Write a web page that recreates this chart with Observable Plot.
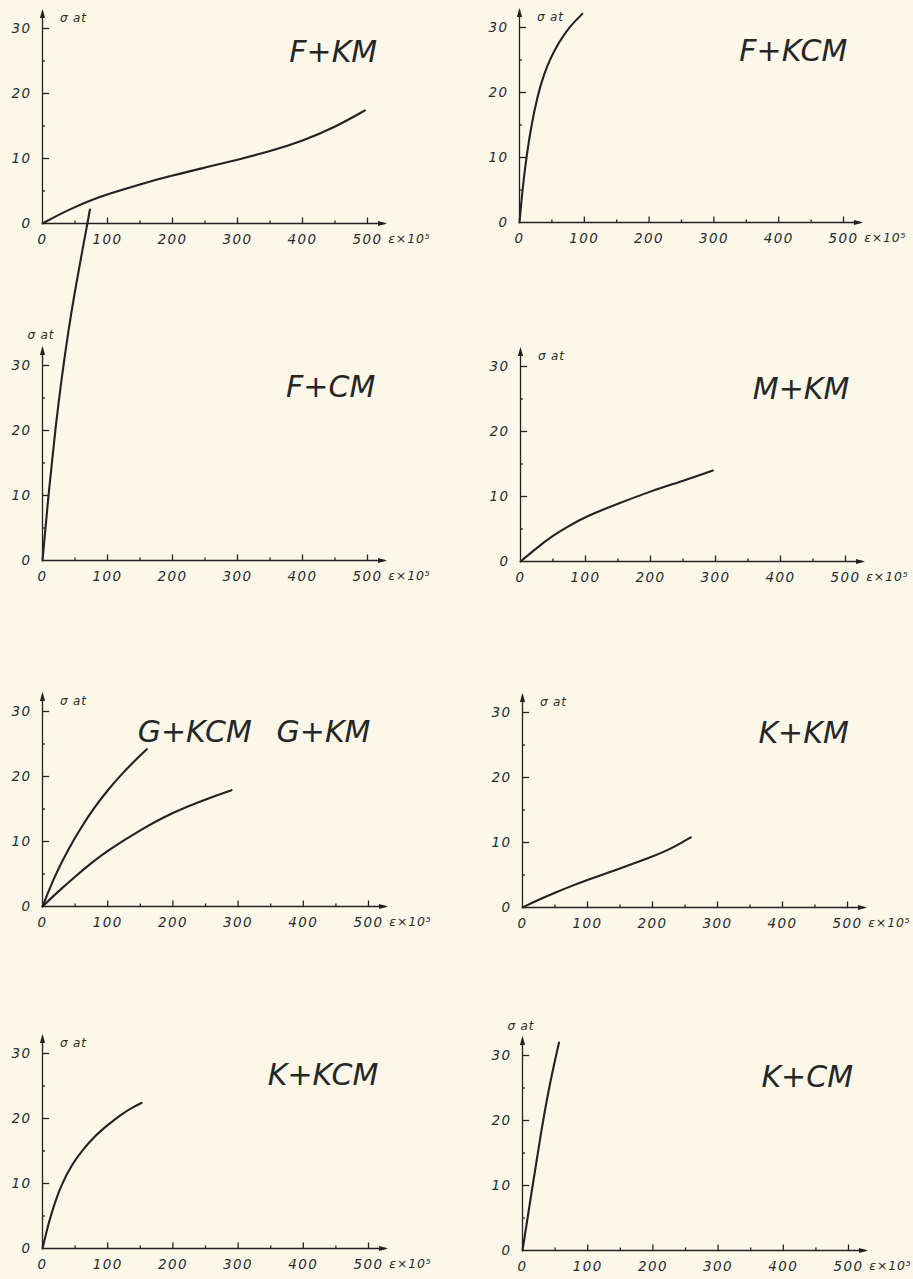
<!DOCTYPE html>
<html>
<head>
<meta charset="utf-8">
<script src="https://cdn.jsdelivr.net/npm/d3@7"></script>
<script src="https://cdn.jsdelivr.net/npm/@observablehq/plot@0.6"></script>
<style>
  html, body { margin: 0; padding: 0; background: #fbf8ea; }
  #fig { position: relative; width: 913px; height: 1279px; overflow: hidden; background: #fbf8ea; }
  #fig svg { position: absolute; overflow: visible; }
  #fig g[aria-description="tick-label"] text { letter-spacing: 1.4px; }
  #fig g[aria-description="unit-label"] text { letter-spacing: 0.8px; }
</style>
</head>
<body>
<div id="fig"></div>
<script>
// ---- axis ticks and labels ----
const xMajor = [100, 200, 300, 400, 500];
const xMinor = [50, 150, 250, 350, 450];
const xLabels = [0, 100, 200, 300, 400, 500];
const yMajor = [10, 20, 30];
const yMinor = [5, 15, 25];
const yLabels = [0, 10, 20, 30];
const xUnit = "ε×10⁵";
const yUnit = "σ at";

// ---- panel titles ----
const panelTitles = ["F+KM", "F+KCM", "F+CM", "M+KM", "G+KCM", "K+KM", "K+KCM", "K+CM"];
const extraTitle = "G+KM";

// ---- curves: strain ε×10^5 and stress σ (at) ----
const fkmEps  = [0, 25, 50, 75, 100, 150, 200, 250, 300, 350, 400, 450, 496];
const fkmSig  = [0, 1.35, 2.55, 3.6, 4.5, 6.05, 7.4, 8.6, 9.8, 11.1, 12.7, 14.8, 17.4];

const fkcmEps = [0, 5, 11, 18, 28, 38, 48, 60, 76, 97];
const fkcmSig = [0, 5.5, 10.3, 14.8, 19.6, 22.9, 25.3, 27.6, 30.0, 32.1];

const fcmEps  = [0, 10, 20, 30, 40, 50, 60, 73];
const fcmSig  = [0, 11, 20.5, 28.5, 35.5, 41.5, 47, 54];

const mkmEps  = [0, 25, 50, 75, 100, 150, 200, 250, 296];
const mkmSig  = [0, 2.1, 4.0, 5.5, 6.9, 8.9, 10.8, 12.4, 14.0];

const gkcmEps = [0, 20, 40, 60, 80, 100, 120, 140, 160];
const gkcmSig = [0, 5.0, 8.9, 12.3, 15.3, 17.9, 20.2, 22.3, 24.2];

const gkmEps  = [0, 25, 50, 75, 100, 150, 200, 250, 290];
const gkmSig  = [0, 2.4, 4.6, 6.7, 8.6, 11.8, 14.5, 16.5, 17.9];

const kkmEps  = [0, 25, 50, 75, 100, 150, 200, 230, 259];
const kkmSig  = [0, 1.2, 2.3, 3.3, 4.25, 6.0, 7.8, 9.1, 10.8];

const kkcmEps = [0, 10, 20, 30, 45, 60, 80, 100, 120, 140, 152];
const kkcmSig = [0, 4.2, 7.4, 10.0, 12.9, 15.0, 17.3, 19.0, 20.6, 21.8, 22.4];

const kcmEps  = [0, 14, 28, 42, 56];
const kcmSig  = [0, 9, 18, 25.8, 32];

const toPts = (eps, sig) => eps.map((e, i) => ({eps: e, sig: sig[i]}));

// ---- layout (pixel geometry of each panel) ----
const ink = "#222";
const PW = 456, SPAN = 195, MT = 48, MB = 36;
const panels = [
  {title: 0, curves: [[fkmEps, fkmSig]],   left: 0,   ox: 42,  x500: 367, y0: 223, unitAbove: null, tx: 515, ty: 26.4},
  {title: 1, curves: [[fkcmEps, fkcmSig]], left: 456, ox: 519, x500: 843, y0: 222, unitAbove: null, tx: 506, ty: 26.4},
  {title: 2, curves: [[fcmEps, fcmSig]],   left: 0,   ox: 42,  x500: 367, y0: 560, unitAbove: -8,   tx: 512, ty: 26.6},
  {title: 3, curves: [[mkmEps, mkmSig]],   left: 456, ox: 520, x500: 845, y0: 561, unitAbove: null, tx: 506, ty: 26.5},
  {title: 4, curves: [[gkcmEps, gkcmSig], [gkmEps, gkmSig]], left: 0, ox: 42, x500: 368, y0: 906, unitAbove: null, tx: 146, ty: 26.8, startAnchor: true, extra: true},
  {title: 5, curves: [[kkmEps, kkmSig]],   left: 456, ox: 522, x500: 847, y0: 907, unitAbove: null, tx: 502, ty: 26.8},
  {title: 6, curves: [[kkcmEps, kkcmSig]], left: 0,   ox: 42,  x500: 368, y0: 1248, unitAbove: null, tx: 515, ty: 26.7},
  {title: 7, curves: [[kcmEps, kcmSig]],   left: 456, ox: 522, x500: 848, y0: 1250, unitAbove: -7,  tx: 507, ty: 26.7}
];

const arrowRight = {draw(c) { c.moveTo(0, 0); c.lineTo(-9, -2.6); c.lineTo(-9, 2.6); c.closePath(); }};
const arrowUp    = {draw(c) { c.moveTo(0, 0); c.lineTo(-2.6, 9); c.lineTo(2.6, 9); c.closePath(); }};

const fig = document.getElementById("fig");
const font = "DejaVu Sans";

for (const p of panels) {
  const top = p.y0 - SPAN - MT;
  const marginLeft = p.ox - p.left;
  const marginRight = p.left + PW - p.x500;
  const tickFont = {fontSize: 13.5, fontStyle: "italic", fontFamily: font, fill: "#2a2a2a", ariaDescription: "tick-label"};
  const unitFont = {fontSize: 12.5, fontStyle: "italic", fontFamily: font, fill: "#2a2a2a", ariaDescription: "unit-label"};
  const marks = [
    // axes with arrowheads
    Plot.ruleY([0], {x1: 0, x2: 527, stroke: ink, strokeWidth: 1.3}),
    Plot.ruleX([0], {y1: 0, y2: 32.6, stroke: ink, strokeWidth: 1.3}),
    Plot.dot([0], {x: 530, y: 0, symbol: arrowRight, fill: ink, stroke: "none"}),
    Plot.dot([0], {x: 0, y: 33.0, symbol: arrowUp, fill: ink, stroke: "none"}),
    // ticks
    Plot.ruleX(xMajor, {x: d => d, y1: 0, y2: 0.85, stroke: ink, strokeWidth: 1.3}),
    Plot.ruleX(xMinor, {x: d => d, y1: 0, y2: 0.4, stroke: ink, strokeWidth: 1.3}),
    Plot.ruleY(yMajor, {y: d => d, x1: 0, x2: 11, stroke: ink, strokeWidth: 1.3}),
    Plot.ruleY(yMinor, {y: d => d, x1: 0, x2: 4.5, stroke: ink, strokeWidth: 1.3}),
    // tick labels
    Plot.text(xLabels, {x: d => d, y: 0, dy: 16, text: d => String(d), ...tickFont}),
    Plot.text(yLabels, {x: 0, y: d => d, dx: -11, textAnchor: "end", text: d => String(d), ...tickFont}),
    Plot.text([xUnit], {x: 532, y: 0, dy: 15, textAnchor: "start", text: d => d, ...unitFont}),
    p.unitAbove != null
      ? Plot.text([yUnit], {x: -23, y: 33.5, dy: p.unitAbove, textAnchor: "start", text: d => d, ...unitFont, fontSize: 12})
      : Plot.text([yUnit], {x: 27, y: 31.6, textAnchor: "start", text: d => d, ...unitFont, fontSize: 12}),
    // curves
    ...p.curves.map(([e, s]) => Plot.line(toPts(e, s), {x: "eps", y: "sig", curve: "basis", stroke: ink, strokeWidth: 2.1})),
    // title(s)
    Plot.text([panelTitles[p.title]], {x: p.tx, y: p.ty, text: d => d, textAnchor: p.startAnchor ? "start" : "end",
      fontSize: 30, fontStyle: "italic", fontFamily: font, fill: "#262626"})
  ];
  if (p.extra) {
    marks.push(Plot.text([extraTitle], {x: 503, y: p.ty, text: d => d, textAnchor: "end",
      fontSize: 30, fontStyle: "italic", fontFamily: font, fill: "#262626"}));
  }
  const chart = Plot.plot({
    width: PW,
    height: MT + SPAN + MB,
    marginTop: MT, marginBottom: MB, marginLeft, marginRight,
    x: {domain: [0, 500], axis: null},
    y: {domain: [0, 30], axis: null},
    style: {background: "transparent", overflow: "visible", fontFamily: font, color: ink},
    marks
  });
  chart.style.left = p.left + "px";
  chart.style.top = top + "px";
  fig.appendChild(chart);
}
</script>
</body>
</html>
